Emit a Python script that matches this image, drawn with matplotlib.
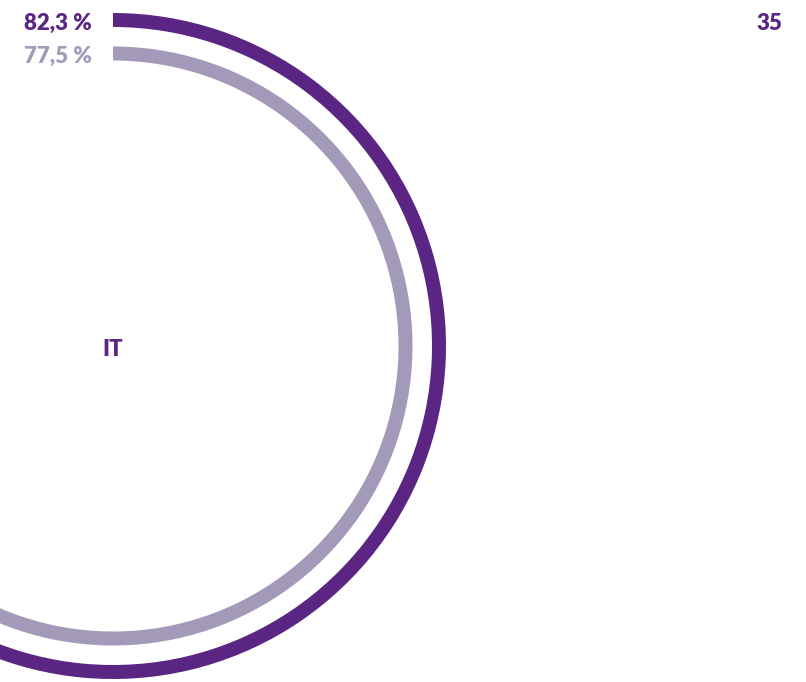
import matplotlib.pyplot as plt
from matplotlib.patches import Wedge

# values
labels = ["82,3 %", "77,5 %"]
shares = [82.3, 77.5]
colors = ["#5b2583", "#a399b8"]
center_label = "IT"
corner_label = "35"

W, H = 806, 682
fig = plt.figure(figsize=(W / 100, H / 100), dpi=100)
ax = fig.add_axes([0, 0, 1, 1])
ax.set_xlim(0, W)
ax.set_ylim(0, H)
ax.axis("off")

cx, cy = 113, H - 346
radii = [326, 292.5]
ring = 14

txt = dict(fontsize=16, fontweight="heavy", family="Lato")

for share, r, col, lab in zip(shares, radii, colors, labels):
    ax.add_patch(Wedge((cx, cy), r + ring / 2, 90 - 360 * share / 100, 90,
                       width=ring, color=col, lw=0))
    ax.text(92, cy + r - 1, lab, color=col, ha="right", va="center_baseline", **txt)

ax.text(cx, cy - 2, center_label, color=colors[0], ha="center", va="center_baseline", **txt)
ax.text(782, H - 21, corner_label, color=colors[0], ha="right", va="center_baseline", **txt)

fig.savefig("out.png", dpi=100)
